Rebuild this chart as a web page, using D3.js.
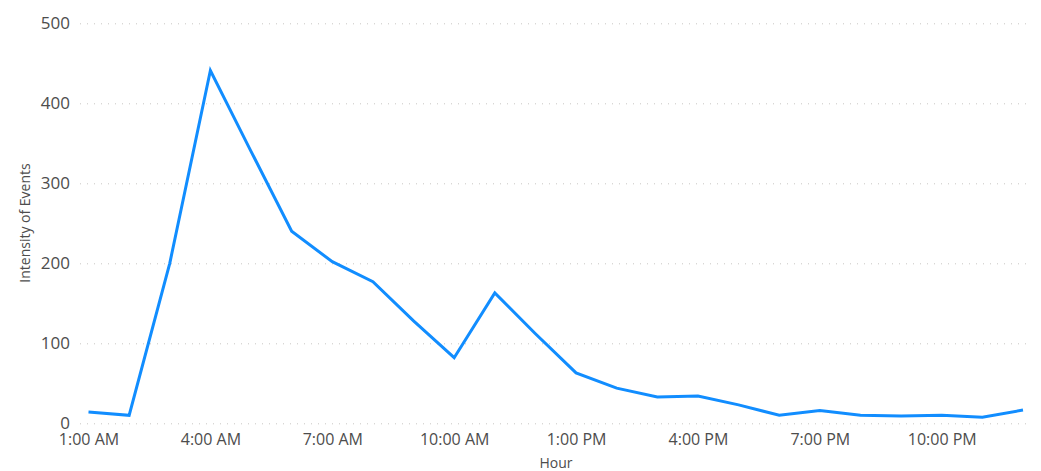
<!DOCTYPE html>
<html>
<head>
<meta charset="utf-8">
<script src="https://cdn.jsdelivr.net/npm/d3@7"></script>
<style>
  body { margin: 0; background: #fff; }
  svg text { font-family: "Segoe UI", "Open Sans", "Noto Sans", sans-serif; }
</style>
</head>
<body>
<script>
const hours = ["1:00 AM","2:00 AM","3:00 AM","4:00 AM","5:00 AM","6:00 AM","7:00 AM","8:00 AM",
  "9:00 AM","10:00 AM","11:00 AM","12:00 PM","1:00 PM","2:00 PM","3:00 PM","4:00 PM",
  "5:00 PM","6:00 PM","7:00 PM","8:00 PM","9:00 PM","10:00 PM","11:00 PM","12:00 AM"];
const intensity = [14, 10, 200, 441, 340, 240, 202, 177, 128, 82, 163, 112,
  63, 44, 33, 34, 23, 10, 16, 10, 9, 10, 7.5, 16.5];
const yTicks = [0, 100, 200, 300, 400, 500];

const w = 1041;
const h = 471;
const svg = d3.select("body")
  .append("svg")
  .attr("width", w)
  .attr("height", h);

const x = d3.scalePoint()
  .domain(hours)
  .range([88.5, 1023]);
const y = d3.scaleLinear()
  .domain([0, 500])
  .range([423.3, 23.3]);

// grid + y labels
const yAxis = d3.axisLeft(y)
  .tickValues(yTicks)
  .tickSize(0)
  .tickPadding(10);
const gy = svg.append("g")
  .attr("transform", "translate(80,0)")
  .call(yAxis);
gy.select(".domain").remove();
gy.selectAll(".tick text")
  .attr("fill", "#4d4d4d")
  .style("font-size", "17px")
  .attr("dy", "0.3em");
gy.selectAll(".tick")
  .append("line")
  .attr("x1", 0)
  .attr("x2", 951)
  .attr("stroke", "#c8c6c4")
  .attr("stroke-width", 1)
  .attr("stroke-dasharray", "1,6");

// x labels, every third hour
const xAxis = d3.axisBottom(x)
  .tickValues(hours.filter((d, i) => i % 3 === 0))
  .tickSize(0)
  .tickPadding(0);
const gx = svg.append("g")
  .attr("transform", "translate(0,434)")
  .call(xAxis);
gx.select(".domain").remove();
gx.selectAll(".tick text")
  .attr("fill", "#4d4d4d")
  .style("font-size", "16px")
  .attr("dy", "0.71em");

// line
const line = d3.line()
  .x((d, i) => x(hours[i]))
  .y(d => y(d));
svg.append("path")
  .datum(intensity)
  .attr("fill", "none")
  .attr("stroke", "#118dff")
  .attr("stroke-width", 3)
  .attr("stroke-linejoin", "miter")
  .attr("d", line);

// axis titles
svg.append("text")
  .attr("x", 556)
  .attr("y", 468)
  .attr("text-anchor", "middle")
  .attr("fill", "#4d4d4d")
  .style("font-size", "14px")
  .text("Hour");
svg.append("text")
  .attr("transform", "translate(30,223) rotate(-90)")
  .attr("text-anchor", "middle")
  .attr("fill", "#4d4d4d")
  .style("font-size", "14px")
  .text("Intensity of Events");
</script>
</body>
</html>
